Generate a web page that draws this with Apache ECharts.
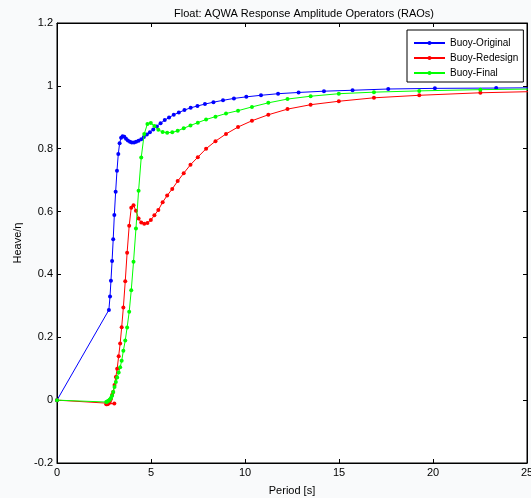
<!DOCTYPE html>
<html>
<head>
<meta charset="utf-8">
<script src="https://cdn.jsdelivr.net/npm/echarts@6/dist/echarts.min.js"></script>
<style>
  html, body { margin: 0; padding: 0; background: #f9fafb; }
  #chart { width: 531px; height: 498px; }
</style>
</head>
<body>
<div id="chart"></div>
<script>
// Buoy-Original: period [s] and heave RAO
const originalPeriod = [27.9, 23.36, 20.1, 17.62, 15.72, 14.2, 12.85, 11.76, 10.85, 10.07, 9.41, 8.83, 8.32, 7.87, 7.47, 7.11, 6.78, 6.48, 6.21, 5.96, 5.73, 5.51, 5.31, 5.12, 4.94, 4.78, 4.62, 4.48, 4.34, 4.21, 4.10, 3.98, 3.88, 3.77, 3.67, 3.58, 3.49, 3.41, 3.33, 3.26, 3.19, 3.12, 3.05, 2.99, 2.93, 2.87, 2.82, 2.76, 0]
const originalHeave = [0.995, 0.993, 0.992, 0.990, 0.986, 0.983, 0.979, 0.975, 0.970, 0.965, 0.960, 0.954, 0.948, 0.942, 0.936, 0.930, 0.923, 0.915, 0.908, 0.899, 0.891, 0.881, 0.871, 0.861, 0.852, 0.845, 0.837, 0.830, 0.825, 0.822, 0.820, 0.820, 0.822, 0.826, 0.832, 0.838, 0.840, 0.835, 0.817, 0.783, 0.730, 0.663, 0.589, 0.512, 0.443, 0.380, 0.330, 0.287, 0]

// Buoy-Redesign
const redesignPeriod = [27.0, 22.52, 19.27, 16.86, 14.99, 13.49, 12.26, 11.24, 10.37, 9.63, 8.99, 8.43, 7.93, 7.49, 7.10, 6.74, 6.42, 6.13, 5.86, 5.62, 5.39, 5.18, 4.99, 4.81, 4.64, 4.48, 4.34, 4.20, 4.07, 3.95, 3.84, 3.73, 3.63, 3.53, 3.44, 3.36, 3.28, 3.20, 3.13, 3.06, 2.99, 2.93, 2.87, 2.81, 2.76, 2.71, 2.66, 2.62, 3.05, 0]
const redesignHeave = [0.984, 0.978, 0.970, 0.962, 0.951, 0.940, 0.926, 0.908, 0.889, 0.869, 0.847, 0.824, 0.800, 0.773, 0.749, 0.722, 0.697, 0.672, 0.651, 0.630, 0.605, 0.588, 0.573, 0.564, 0.561, 0.565, 0.578, 0.603, 0.620, 0.612, 0.555, 0.469, 0.378, 0.295, 0.232, 0.180, 0.140, 0.100, 0.074, 0.048, 0.026, 0.016, 0.004, -0.004, -0.009, -0.012, -0.013, -0.013, -0.011, 0]

// Buoy-Final
const finalPeriod = [27.0, 22.52, 19.27, 16.86, 14.99, 13.49, 12.26, 11.24, 10.37, 9.63, 8.99, 8.43, 7.93, 7.49, 7.10, 6.74, 6.42, 6.13, 5.86, 5.62, 5.39, 5.18, 4.99, 4.81, 4.64, 4.48, 4.34, 4.20, 4.07, 3.95, 3.84, 3.73, 3.63, 3.53, 3.44, 3.36, 3.28, 3.20, 3.13, 3.06, 2.99, 2.93, 2.87, 2.81, 2.76, 2.71, 2.66, 2.62, 0]
const finalHeave = [0.991, 0.988, 0.984, 0.980, 0.975, 0.967, 0.958, 0.946, 0.933, 0.921, 0.912, 0.902, 0.893, 0.883, 0.874, 0.865, 0.857, 0.852, 0.851, 0.853, 0.860, 0.872, 0.882, 0.879, 0.847, 0.772, 0.666, 0.546, 0.440, 0.350, 0.281, 0.231, 0.190, 0.157, 0.125, 0.105, 0.088, 0.072, 0.058, 0.042, 0.026, 0.014, 0.007, 0.002, -0.001, -0.003, -0.005, -0.006, 0]

const seriesNames = ['Buoy-Original', 'Buoy-Redesign', 'Buoy-Final']
const seriesColors = ['#0000ff', '#ff0000', '#00ff00']

const zip = (xs, ys) => xs.map((x, i) => [x, ys[i]])
const seriesData = [
  zip(originalPeriod, originalHeave),
  zip(redesignPeriod, redesignHeave),
  zip(finalPeriod, finalHeave)
]

const font = 'Arial, "Liberation Sans", sans-serif'

const chart = echarts.init(document.getElementById('chart'))

const xBase = {
  type: 'value', min: 0, max: 25, interval: 5,
  axisLine: { show: true, onZero: false, lineStyle: { color: '#000', width: 1 } },
  axisTick: { show: true, inside: true, length: 4, lineStyle: { color: '#000' } },
  splitLine: { show: false }
}
const yBase = {
  type: 'value', min: -0.2, max: 1.2, interval: 0.2,
  axisLine: { show: true, onZero: false, lineStyle: { color: '#000', width: 1 } },
  axisTick: { show: true, inside: true, length: 4, lineStyle: { color: '#000' } },
  splitLine: { show: false }
}

chart.setOption({
  animation: false,
  backgroundColor: '#f9fafb',
  textStyle: { fontFamily: font },
  title: {
    text: 'Float: AQWA Response Amplitude Operators (RAOs)',
    left: 169, top: 3,
    textStyle: { fontSize: 11, fontWeight: 'normal', color: '#000', fontFamily: font }
  },
  grid: {
    left: 57, top: 23, right: 4, bottom: 35,
    containLabel: false,
    outerBoundsMode: 'none',
    show: true, backgroundColor: '#fff', borderColor: '#000', borderWidth: 1
  },
  legend: {
    data: seriesNames,
    orient: 'vertical',
    left: 407, top: 30,
    backgroundColor: '#fff',
    borderColor: '#000', borderWidth: 1,
    padding: [7, 5, 3, 6],
    itemGap: 3,
    itemWidth: 31, itemHeight: 5,
    textStyle: { fontSize: 10, lineHeight: 12, color: '#000', fontFamily: font }
  },
  xAxis: [
    Object.assign({}, xBase, {
      position: 'bottom',
      name: 'Period [s]', nameLocation: 'middle', nameGap: 22,
      nameTextStyle: { fontSize: 11, color: '#000' },
      axisLabel: { fontSize: 11, color: '#000', margin: 4 }
    }),
    Object.assign({}, xBase, { position: 'top', axisLabel: { show: false } })
  ],
  yAxis: [
    Object.assign({}, yBase, {
      position: 'left',
      name: 'Heave/η', nameLocation: 'middle', nameGap: 27,
      nameTextStyle: { fontSize: 11, color: '#000' },
      axisLabel: { fontSize: 11, color: '#000', margin: 4 }
    }),
    Object.assign({}, yBase, { position: 'right', axisLabel: { show: false } })
  ],
  series: seriesNames.map((name, i) => ({
    name: name,
    type: 'line',
    data: seriesData[i],
    xAxisIndex: 0, yAxisIndex: 0,
    symbol: 'circle', symbolSize: 4,
    showAllSymbol: true,
    clip: true,
    z: 2 + i,
    lineStyle: { color: seriesColors[i], width: 1 },
    itemStyle: { color: seriesColors[i] }
  }))
})
</script>
</body>
</html>
